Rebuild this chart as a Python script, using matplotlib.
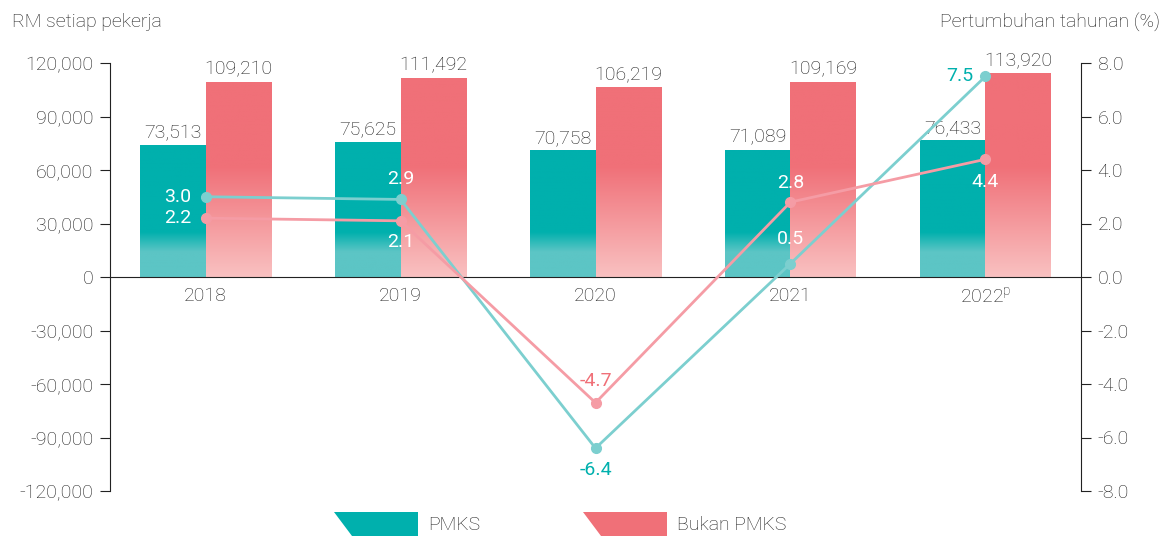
import numpy as np
import matplotlib
matplotlib.use('Agg')
from matplotlib import pyplot as plt
from matplotlib.patches import Polygon
from matplotlib.colors import to_rgb
from matplotlib.ticker import FuncFormatter

plt.rcParams['font.family'] = ['Roboto', 'DejaVu Sans']

tahun = ['2018', '2019', '2020', '2021', '2022$^\\mathregular{p}$']
pmks = [73513, 75625, 70758, 71089, 76433]
bukan = [109210, 111492, 106219, 109169, 113920]
g_pmks = [3.0, 2.9, -6.4, 0.5, 7.5]
g_bukan = [2.2, 2.1, -4.7, 2.8, 4.4]

teal = '#00B0AD'
teal_lt = '#5CC5C5'
pink = '#F07078'
pink_lt = '#F9C1C1'
teal_line = '#7CCFCF'
pink_line = '#F59CA5'
szary = '#1E1E1E'
FS = 14


def gradient(h, c_top, c_bot, y_full, y_start):
    # kolor zalezy od wartosci y (tak samo dla wszystkich slupkow)
    y = np.linspace(0, h, 200)
    t = np.clip((y - y_start) / (y_full - y_start), 0, 1)
    a = np.array(to_rgb(c_bot))
    b = np.array(to_rgb(c_top))
    img = a[None, :] * (1 - t[:, None]) + b[None, :] * t[:, None]
    return img[:, None, :]


fig = plt.figure(figsize=(11.67, 5.36), dpi=100)
ax = fig.add_axes([110/1167, 1-491/536, (1081-110)/1167, (491-63)/536])
ax2 = ax.twinx()

x = np.arange(len(tahun))
w = 0.335

for i in range(len(x)):
    # PMKS
    x0 = x[i] - w
    ax.imshow(gradient(pmks[i], teal, teal_lt, 25000, 14000),
              extent=(x0, x[i], 0, pmks[i]), origin='lower',
              aspect='auto', zorder=2)
    ax.text(x[i] - w/2, pmks[i] + 2000, f'{pmks[i]:,}', ha='center',
            va='bottom', fontsize=FS, color=szary, fontweight='light')
    # Bukan PMKS
    ax.imshow(gradient(bukan[i], pink, pink_lt, 62000, 0),
              extent=(x[i], x[i] + w, 0, bukan[i]), origin='lower',
              aspect='auto', zorder=2)
    ax.text(x[i] + w/2, bukan[i] + 2000, f'{bukan[i]:,}', ha='center',
            va='bottom', fontsize=FS, color=szary, fontweight='light')

ax.set_xlim(-0.49, len(x) - 1 + 0.49)
ax.set_ylim(-120000, 120000)
ax.set_yticks(np.arange(-120000, 120001, 30000))
ax.yaxis.set_major_formatter(FuncFormatter(lambda v, p: f'{int(v):,}'))
ax.set_xticks(x)
ax.set_xticklabels(tahun)

for s in ['top', 'right']:
    ax.spines[s].set_visible(False)
ax.spines['bottom'].set_position(('data', 0))
ax.spines['bottom'].set_color('#222222')
ax.spines['left'].set_color('#222222')
ax.tick_params(axis='y', direction='out', length=7, color='#222222',
               labelsize=FS, labelcolor=szary, pad=5)
ax.tick_params(axis='x', length=0, labelsize=FS, labelcolor=szary, pad=7)
for lab in ax.get_xticklabels() + ax.get_yticklabels():
    lab.set_fontweight('light')

# Linie wzrostu
ax2.set_ylim(-8, 8)
ax2.set_yticks(np.arange(-8, 8.1, 2))
ax2.yaxis.set_major_formatter(FuncFormatter(lambda v, p: f'{v:.1f}'))
for s in ['top', 'left', 'bottom']:
    ax2.spines[s].set_visible(False)
ax2.spines['right'].set_color('#222222')
ax2.tick_params(axis='y', direction='out', length=7, color='#222222',
                labelsize=FS, labelcolor=szary, pad=5)
for lab in ax2.get_yticklabels():
    lab.set_fontweight('light')

ax2.plot(x, g_pmks, color=teal_line, lw=2, marker='o', ms=7, zorder=3)
ax2.plot(x, g_bukan, color=pink_line, lw=2, marker='o', ms=7, zorder=3)

# etykiety: (przesuniecie x, y w punktach, ha, kolor)
pos_pmks = [(-10, 0, 'right', 'white'), (0, 15, 'center', 'white'),
            (0, -16, 'center', teal), (0, 18, 'center', 'white'),
            (-9, 0, 'right', teal)]
pos_bukan = [(-10, 0, 'right', 'white'), (0, -15, 'center', 'white'),
             (0, 16, 'center', pink), (0, 14, 'center', 'white'),
             (0, -16, 'center', 'white')]
for i in range(len(x)):
    for val, (dx, dy, ha, col) in ((g_pmks[i], pos_pmks[i]),
                                   (g_bukan[i], pos_bukan[i])):
        ax2.annotate(f'{val:.1f}', (x[i], val), xytext=(dx, dy),
                     textcoords='offset points', ha=ha, va='center',
                     fontsize=FS, color=col, zorder=4)

fig.text(12/1167, 1-22/536, 'RM setiap pekerja', fontsize=FS, color=szary,
         va='center', ha='left', fontweight='light')
fig.text(1160/1167, 1-22/536, 'Pertumbuhan tahunan (%)', fontsize=FS,
         color=szary, va='center', ha='right', fontweight='light')

# Legenda
def leg(xl, col, txt):
    pts = [(xl/1167, 1-512/536), ((xl+84)/1167, 1-512/536),
           ((xl+84)/1167, 0), ((xl+18)/1167, 0)]
    fig.add_artist(Polygon(pts, closed=True, transform=fig.transFigure,
                           facecolor=col, edgecolor='none'))
    fig.text((xl+94)/1167, 1-525/536, txt, fontsize=FS, color=szary,
             va='center', ha='left', fontweight='light')

leg(334, teal, 'PMKS')
leg(583, pink, 'Bukan PMKS')

fig.savefig('out.png', dpi=100)
